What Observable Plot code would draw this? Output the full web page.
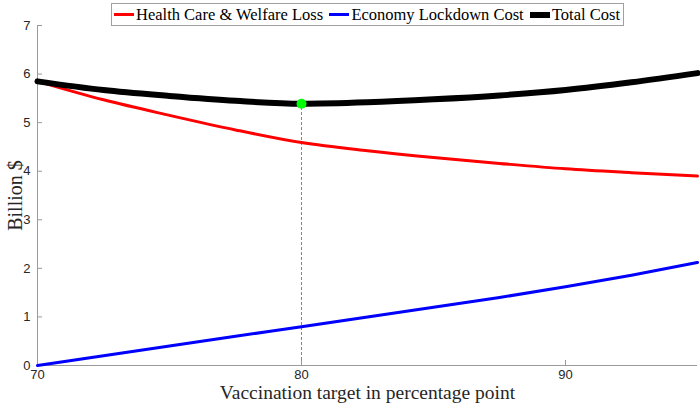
<!DOCTYPE html>
<html>
<head>
<meta charset="utf-8">
<script src="https://cdn.jsdelivr.net/npm/d3@7"></script>
<script src="https://cdn.jsdelivr.net/npm/@observablehq/plot@0.6"></script>
<style>
  html, body { margin: 0; padding: 0; background: #fff; }
  #wrap { position: relative; width: 700px; height: 409px; }
  #legend {
    position: absolute; left: 111px; top: 3px; height: 21px; width: 506px;
    border: 1px solid #a0a0a0; background: #fff;
    display: flex; align-items: center; justify-content: space-between; padding: 0 3px 0 2px;
    font-family: "Liberation Serif", "DejaVu Serif", serif; font-size: 16.5px; color: #000;
    white-space: nowrap;
  }
  #legend .sw { display: inline-block; width: 20px; margin-right: 2px; }
  #legend .it { display: flex; align-items: center; }
</style>
</head>
<body>
<div id="wrap"></div>
<script>
const vaccination = [70, 72.5, 75, 77.5, 80, 82.5, 85, 87.5, 90, 92.5, 95];
const healthLoss   = [5.85, 5.47, 5.15, 4.85, 4.59, 4.42, 4.28, 4.16, 4.05, 3.97, 3.90];
const lockdownCost = [0.00, 0.20, 0.40, 0.60, 0.80, 1.00, 1.20, 1.40, 1.62, 1.86, 2.12];
const totalCost    = [5.85, 5.67, 5.55, 5.45, 5.39, 5.42, 5.48, 5.56, 5.67, 5.83, 6.02];
const optimum = [{x: 80, y: 5.39}];
const seriesNames = ["Health Care & Welfare Loss", "Economy Lockdown Cost", "Total Cost"];
const seriesColors = ["#ff0000", "#0000ff", "#000000"];
const seriesWidths = [3, 3, 6];
const xTicks = [70, 80, 90];
const yTicks = [0, 1, 2, 3, 4, 5, 6, 7];

const toRows = (vals) => vaccination.map((x, i) => ({x, y: vals[i]}));
const series = [healthLoss, lockdownCost, totalCost].map(toRows);

const axisColor = "#9a9a9a";
const plot = Plot.plot({
  width: 700,
  height: 409,
  marginLeft: 37,
  marginRight: 3,
  marginTop: 25,
  marginBottom: 44,
  style: {fontFamily: "'Liberation Sans', Arial, sans-serif", fontSize: "13px", color: "#262626", background: "#fff"},
  x: {domain: [70, 95]},
  y: {domain: [0, 7]},
  marks: [
    Plot.ruleX(optimum, {x: "x", y1: 0, y2: "y", stroke: "#666", strokeWidth: 0.8, strokeDasharray: "3,2"}),
    Plot.ruleY([0], {stroke: axisColor, strokeWidth: 1}),
    Plot.ruleX([70], {stroke: axisColor, strokeWidth: 1}),
    Plot.axisX({ticks: xTicks, tickSize: -5, stroke: axisColor, label: null, tickFormat: () => ""}),
    Plot.axisX({ticks: xTicks, tickSize: 0, tickPadding: 4, fill: "#262626", label: null, tickFormat: d => String(d)}),
    Plot.axisY({ticks: yTicks, tickSize: -5, tickPadding: 12, stroke: axisColor, fill: "#262626", label: null, tickFormat: d => String(d)}),
    ...series.map((rows, i) => Plot.line(rows, {x: "x", y: "y", stroke: seriesColors[i], strokeWidth: seriesWidths[i], curve: "monotone-x"})),
    Plot.dot(optimum, {x: "x", y: "y", r: 5, fill: "#00ff00", stroke: null}),
    Plot.text(["Vaccination target in percentage point"], {frameAnchor: "bottom", dy: 33, fontFamily: "'Liberation Serif', serif", fontSize: 19.5, fill: "#262626"}),
    Plot.text(["Billion $"], {frameAnchor: "left", textAnchor: "middle", dx: -22, rotate: -90, fontFamily: "'Liberation Serif', serif", fontSize: 20, fill: "#262626"})
  ]
});

const wrap = document.getElementById("wrap");
wrap.appendChild(plot);
const legend = document.createElement("div");
legend.id = "legend";
seriesNames.forEach((name, i) => {
  const it = document.createElement("span");
  it.className = "it";
  const sw = document.createElement("span");
  sw.className = "sw";
  sw.style.height = seriesWidths[i] + "px";
  sw.style.background = seriesColors[i];
  it.appendChild(sw);
  it.appendChild(document.createTextNode(name));
  legend.appendChild(it);
});
wrap.appendChild(legend);
</script>
</body>
</html>
